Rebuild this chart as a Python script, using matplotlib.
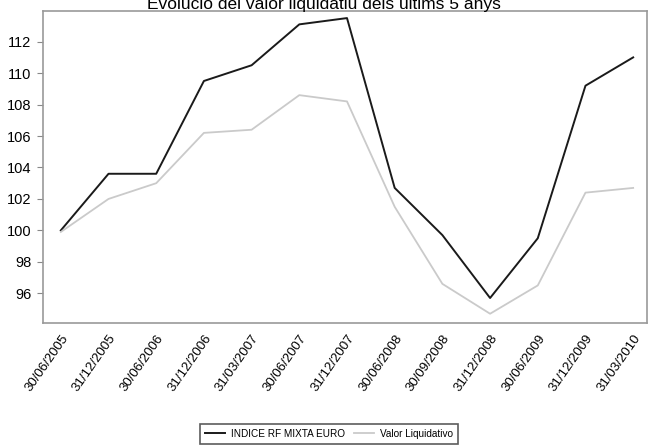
import matplotlib.pyplot as plt
from matplotlib.transforms import ScaledTranslation

plt.rcParams['font.family'] = ['Liberation Sans', 'DejaVu Sans']

dates = ["30/06/2005", "31/12/2005", "30/06/2006", "31/12/2006", "31/03/2007",
         "30/06/2007", "31/12/2007", "30/06/2008", "30/09/2008", "31/12/2008",
         "30/06/2009", "31/12/2009", "31/03/2010"]
indice = [100.0, 103.6, 103.6, 109.5, 110.5, 113.1, 113.5, 102.7, 99.7, 95.7, 99.5, 109.2, 111.0]
valor = [99.9, 102.0, 103.0, 106.2, 106.4, 108.6, 108.2, 101.5, 96.6, 94.7, 96.5, 102.4, 102.7]
yticks = [96, 98, 100, 102, 104, 106, 108, 110, 112]

fig = plt.figure(figsize=(6.48, 4.47), dpi=100)
ax = fig.add_axes([42.7 / 648, 1 - 322.7 / 447, (647 - 42.7) / 648, (322.7 - 11) / 447])

x = list(range(len(dates)))
l1, = ax.plot(x, indice, color="#1a1a1a", lw=1.4)
l2, = ax.plot(x, valor, color="#cacaca", lw=1.3)

ax.set_xlim(-0.38, 12.29)
ax.set_ylim(94.13, 113.95)
ax.set_yticks(yticks)
ax.set_yticklabels([str(v) for v in yticks], fontsize=10.5)
ax.set_xticks(x)
ax.set_xticklabels(dates, rotation=55, ha="right", rotation_mode="anchor", fontsize=9.5)
shift = ScaledTranslation(7 / 100, 0, fig.dpi_scale_trans)
for lab in ax.get_xticklabels():
    lab.set_transform(lab.get_transform() + shift)
ax.tick_params(axis="y", length=4, color="#888888", pad=4)
ax.tick_params(axis="x", length=0, pad=7)
for s in ax.spines.values():
    s.set_color("#999999")
    s.set_linewidth(1.2)

fig.text(0.5, 1 - 9 / 447, "Evolució del valor liquidatiu dels últims 5 anys",
         ha="center", va="baseline", fontsize=12.5)

leg = fig.legend([l1, l2], ["INDICE RF MIXTA EURO", "Valor Liquidativo"],
                 loc="center", bbox_to_anchor=(0.508, 0.03), ncol=2, fontsize=7.2,
                 frameon=True, fancybox=False, handlelength=2.0, columnspacing=0.9,
                 handletextpad=0.6, borderpad=0.5)
leg.get_frame().set_edgecolor("#333333")
leg.get_frame().set_linewidth(1.2)

fig.savefig("out.png", dpi=100)
